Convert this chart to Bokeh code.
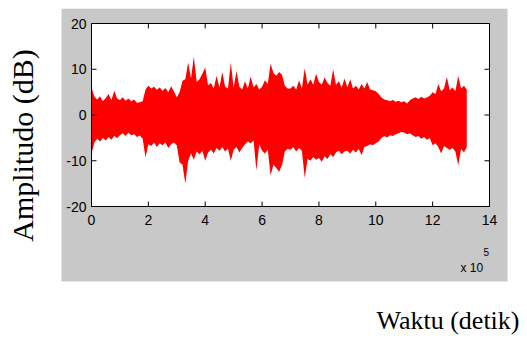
import numpy as np
from bokeh.plotting import figure
from bokeh.models import Range1d, Spacer
from bokeh.layouts import row, column
from bokeh.core.properties import value
from bokeh.embed import file_html
from bokeh.resources import INLINE

# Envelope of the waveform, one value per 0.1 x 10^5 samples
upper_db = [
    6.0, 4.0, 3.4, 4.1, 3.0, 3.7, 4.6, 3.2, 5.3, 3.6,
    3.3, 3.9, 3.1, 3.6, 3.0, 3.4, 2.6, 2.8, 3.0, 5.6,
    6.4, 5.8, 6.2, 5.5, 6.0, 5.3, 5.9, 5.0, 6.3, 5.2,
    3.8, 5.0, 7.5, 7.8, 11.5, 8.0, 12.8, 7.2, 7.8, 9.0,
    10.4, 6.5, 7.0, 5.8, 8.6, 6.0, 9.4, 6.2, 5.8, 11.4,
    6.0, 9.6, 6.2, 5.6, 7.4, 5.8, 8.4, 6.0, 6.8, 5.6,
    6.2, 7.6, 6.8, 11.2, 9.2, 8.6, 9.4, 8.8, 6.4, 5.8,
    5.8, 6.4, 5.6, 7.6, 5.8, 10.2, 6.6, 7.8, 6.6, 9.0,
    7.2, 6.6, 8.2, 7.0, 6.4, 10.0, 6.6, 7.4, 6.0, 8.0,
    6.0, 7.8, 5.8, 6.4, 5.6, 6.8, 5.8, 7.2, 5.6, 5.4,
    5.2, 4.6, 3.8, 3.4, 3.2, 3.0, 3.3, 2.9, 3.1, 2.8,
    3.0, 2.5, 3.2, 3.6, 3.9, 3.5, 4.0, 3.6, 3.8, 4.2,
    5.0, 4.6, 6.8, 5.2, 5.8, 8.3, 5.4, 6.0, 5.2, 8.6,
    5.8, 6.4, 5.6,
]
lower_db = [
    -8.4, -6.0, -5.2, -5.8, -5.0, -5.6, -4.8, -5.4, -4.6, -5.0,
    -4.4, -4.0, -4.6, -3.9, -4.4, -4.2, -4.8, -4.5, -5.2, -9.3,
    -6.4, -6.8, -6.0, -7.0, -6.2, -6.6, -6.0, -7.2, -6.4, -6.0,
    -6.6, -10.4, -10.8, -15.0, -10.0, -8.4, -9.8, -8.0, -8.6, -7.8,
    -10.0, -8.2, -7.6, -8.4, -7.2, -7.8, -7.0, -8.0, -7.4, -10.0,
    -7.6, -7.0, -8.2, -7.2, -6.4, -5.8, -6.2, -5.6, -12.1, -6.4,
    -7.8, -8.4, -7.6, -13.2, -10.8, -11.6, -12.4, -11.0, -8.0, -7.4,
    -7.6, -7.0, -8.0, -7.2, -7.8, -13.7, -9.6, -10.0, -9.2, -9.8,
    -9.4, -10.2, -9.0, -9.6, -8.6, -9.2, -8.2, -7.8, -8.6, -8.0,
    -7.8, -8.4, -7.6, -8.2, -7.4, -8.8, -7.0, -6.8, -6.4, -6.6,
    -6.2, -5.8, -5.0, -4.6, -4.9, -4.4, -4.6, -4.2, -4.0, -3.7,
    -3.8, -4.2, -4.0, -4.4, -4.8, -4.6, -5.2, -4.8, -5.4, -5.0,
    -6.6, -6.2, -7.0, -8.4, -6.8, -7.2, -7.6, -7.2, -8.0, -11.0,
    -7.4, -8.2, -7.0,
]
time_e5 = [i / 10 for i in range(len(upper_db))]

x_ticks = [0, 2, 4, 6, 8, 10, 12, 14]
y_ticks = [-20, -10, 0, 10, 20]
x_tick_labels = ["0", "2", "4", "6", "8", "10", "12", "14"]
y_tick_labels = ["-20", "-10", "0", "10", "20"]
x_min, x_max = 0, 14
y_min, y_max = -20, 20

x_title = "Waktu (detik)"
y_title = "Amplitudo (dB)"
x_multiplier = "x 10"
x_exponent = "5"

# ---- layout, in window pixels ----
ORG_X, ORG_Y = 2, 8                  # canvas origin in the window
W, H = 518, 327                      # canvas size
BOX_L, BOX_R, BOX_T, BOX_B = 91, 489, 23, 206        # axes box
PANEL_L, PANEL_R, PANEL_T, PANEL_B = 61, 507, 8, 281  # gray MATLAB figure panel
GRAY = "#c8c8c8"
TICK_FONT = "Liberation Sans"
SERIF = "Liberation Serif"

sx = (BOX_R - BOX_L) / (x_max - x_min)   # px per x unit
sy = (BOX_B - BOX_T) / (y_max - y_min)   # px per y unit


def dx(px):  # window x pixel -> data x
    return x_min + (px - BOX_L) / sx


def dy(py):  # window y pixel (from top) -> data y
    return y_max - (py - BOX_T) / sy


p = figure(width=W, height=H,
           x_range=Range1d(dx(ORG_X), dx(ORG_X + W)), y_range=Range1d(dy(ORG_Y + H), dy(ORG_Y)),
           x_axis_type=None, y_axis_type=None, output_backend="svg",
           toolbar_location=None, title=None, min_border=0,
           outline_line_color=None, background_fill_color="white",
           border_fill_color="white")
p.grid.visible = False

# gray figure panel and white axes box
p.quad(left=[dx(PANEL_L)], right=[dx(PANEL_R)], top=[dy(PANEL_T)], bottom=[dy(PANEL_B)],
       fill_color=GRAY, line_color=None)
p.quad(left=[x_min], right=[x_max], top=[y_max], bottom=[y_min],
       fill_color="white", line_color=None)

# waveform
p.varea(x=time_e5, y1=lower_db, y2=upper_db, fill_color="#ff0000")

# box outline
p.quad(left=[x_min], right=[x_max], top=[y_max], bottom=[y_min],
       fill_color=None, line_color="black", line_width=1)

# inward ticks on all four sides
TL = 5
nx, ny = len(x_ticks), len(y_ticks)
p.ray(x=x_ticks, y=[y_min] * nx, length=TL, length_units="screen", angle=np.pi / 2,
      line_color="black", line_width=1)
p.ray(x=x_ticks, y=[y_max] * nx, length=TL, length_units="screen", angle=-np.pi / 2,
      line_color="black", line_width=1)
p.ray(x=[x_min] * ny, y=y_ticks, length=TL, length_units="screen", angle=0,
      line_color="black", line_width=1)
p.ray(x=[x_max] * ny, y=y_ticks, length=TL, length_units="screen", angle=np.pi,
      line_color="black", line_width=1)

# tick labels
p.text(x=x_ticks, y=[y_min] * nx, text=x_tick_labels, y_offset=8,
       text_align="center", text_baseline="top", text_font=value(TICK_FONT),
       text_font_size="14px", text_color="black")
p.text(x=[x_min] * ny, y=y_ticks, text=y_tick_labels, x_offset=-5,
       text_align="right", text_baseline="middle", text_font=value(TICK_FONT),
       text_font_size="14px", text_color="black")

# "x 10^5" multiplier
p.text(x=[dx(460)], y=[dy(274)], text=[x_multiplier], text_align="left",
       text_baseline="bottom", text_font=value(TICK_FONT), text_font_size="12px",
       text_color="black")
p.text(x=[dx(483)], y=[dy(247)], text=[x_exponent], text_align="left",
       text_baseline="top", text_font=value(TICK_FONT), text_font_size="10px",
       text_color="black")

# axis titles
p.text(x=[dx(22)], y=[dy(145)], text=[y_title], angle=np.pi / 2,
       text_align="center", text_baseline="middle", text_font=value(SERIF),
       text_font_size="30px", text_color="black")
p.text(x=[dx(519)], y=[dy(334)], text=[x_title], text_align="right",
       text_baseline="bottom", text_font=value(SERIF), text_font_size="26px",
       text_color="black")

layout = column(Spacer(width=ORG_X + W, height=ORG_Y),
                row(Spacer(width=ORG_X, height=H), p))

open("out.html", "w").write(file_html(layout, INLINE))
